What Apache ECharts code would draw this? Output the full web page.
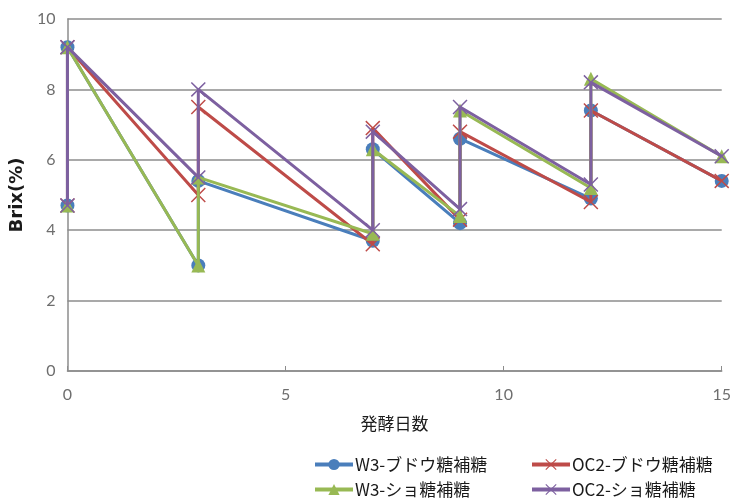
<!DOCTYPE html>
<html>
<head>
<meta charset="utf-8">
<script src="https://cdn.jsdelivr.net/npm/echarts@6/dist/echarts.min.js"></script>
<style>
  html, body { margin: 0; padding: 0; background: #fff; }
  #chart { width: 734px; height: 499px; }
</style>
</head>
<body>
<div id="chart"></div>
<script>
// Fermentation day of each measurement (two readings per feeding day: before / after sugar addition)
const days = [0, 0, 3, 3, 7, 7, 9, 9, 12, 12, 15];

// Brix (%) per series
const w3Glucose  = [4.7, 9.2, 3.0, 5.4, 3.7, 6.3, 4.2, 6.6, 4.9, 7.4, 5.4];
const oc2Glucose = [4.7, 9.2, 5.0, 7.5, 3.6, 6.9, 4.3, 6.8, 4.8, 7.4, 5.4];
const w3Sucrose  = [4.7, 9.2, 3.0, 5.5, 3.9, 6.3, 4.4, 7.4, 5.2, 8.3, 6.1];
const oc2Sucrose = [4.7, 9.2, 5.5, 8.0, 4.0, 6.8, 4.6, 7.5, 5.3, 8.2, 6.1];

const seriesNames = ['W3-ブドウ糖補糖', 'OC2-ブドウ糖補糖', 'W3-ショ糖補糖', 'OC2-ショ糖補糖'];
const xTicks = [0, 5, 10, 15];
const yTicks = [0, 2, 4, 6, 8, 10];

const pair = (xs, ys) => xs.map((x, i) => [x, ys[i]]);

// thin diagonal cross marker
const crossPath = 'path://M0,0.7 L0.7,0 L5,4.3 L9.3,0 L10,0.7 L5.7,5 L10,9.3 L9.3,10 L5,5.7 L0.7,10 L0,9.3 L4.3,5 Z';

const palette = ['#4A7EBB', '#BE4B48', '#98B954', '#7D60A0'];
const values = [w3Glucose, oc2Glucose, w3Sucrose, oc2Sucrose];
const symbols = ['circle', crossPath, 'triangle', crossPath];
const sizes = [14, 15, 14, 15];

const series = values.map((v, i) => ({
  name: seriesNames[i],
  type: 'line',
  data: pair(days, v),
  symbol: symbols[i],
  symbolSize: sizes[i],
  showAllSymbol: true,
  lineStyle: { color: palette[i], width: 3 },
  itemStyle: { color: palette[i], borderWidth: 0 },
  emphasis: { disabled: true },
  animation: false,
  z: 2 + i
}));

// one legend entry per block so the two columns line up
const legendSlots = [
  { left: 313, top: 456 },
  { left: 530, top: 456 },
  { left: 313, top: 481 },
  { left: 530, top: 481 }
];
const legends = seriesNames.map((name, i) => ({
  left: legendSlots[i].left,
  top: legendSlots[i].top,
  padding: 0,
  data: [name],
  itemWidth: 38,
  itemHeight: 14,
  itemGap: 0,
  selectedMode: false,
  lineStyle: { width: 4 },
  textStyle: { fontFamily: '"Noto Sans CJK JP"', fontSize: 17, color: '#1a1a1a', padding: [0, 0, 0, -3] }
}));

const chart = echarts.init(document.getElementById('chart'), null, { renderer: 'canvas' });
chart.setOption({
  backgroundColor: '#fff',
  color: palette,
  grid: { left: 67, right: 11, top: 19, bottom: 128 },
  xAxis: {
    type: 'value',
    min: xTicks[0],
    max: xTicks[xTicks.length - 1],
    interval: 5,
    name: '発酵日数',
    nameLocation: 'middle',
    nameGap: 44,
    nameTextStyle: { fontFamily: '"Noto Sans CJK JP"', fontSize: 17, color: '#1a1a1a' },
    axisLine: { lineStyle: { color: '#8c8c8c', width: 1.5 } },
    axisTick: { show: true, inside: true, length: 5, lineStyle: { color: '#8c8c8c' } },
    axisLabel: { fontFamily: 'Lato', fontSize: 16, color: '#6e6e6e', margin: 16 },
    splitLine: { show: false }
  },
  yAxis: {
    type: 'value',
    min: yTicks[0],
    max: yTicks[yTicks.length - 1],
    interval: 2,
    name: 'Brix(%)',
    nameLocation: 'middle',
    nameGap: 35,
    nameTextStyle: { fontFamily: '"DejaVu Sans"', fontWeight: 'bold', fontSize: 18, color: '#1a1a1a' },
    axisLine: { show: true, lineStyle: { color: '#8c8c8c', width: 1.5 } },
    axisTick: { show: false },
    axisLabel: { fontFamily: 'Lato', fontSize: 16, color: '#6e6e6e', margin: 12 },
    splitLine: { lineStyle: { color: '#8c8c8c', width: 1.5 } }
  },
  legend: legends,
  series: series
});
</script>
</body>
</html>
